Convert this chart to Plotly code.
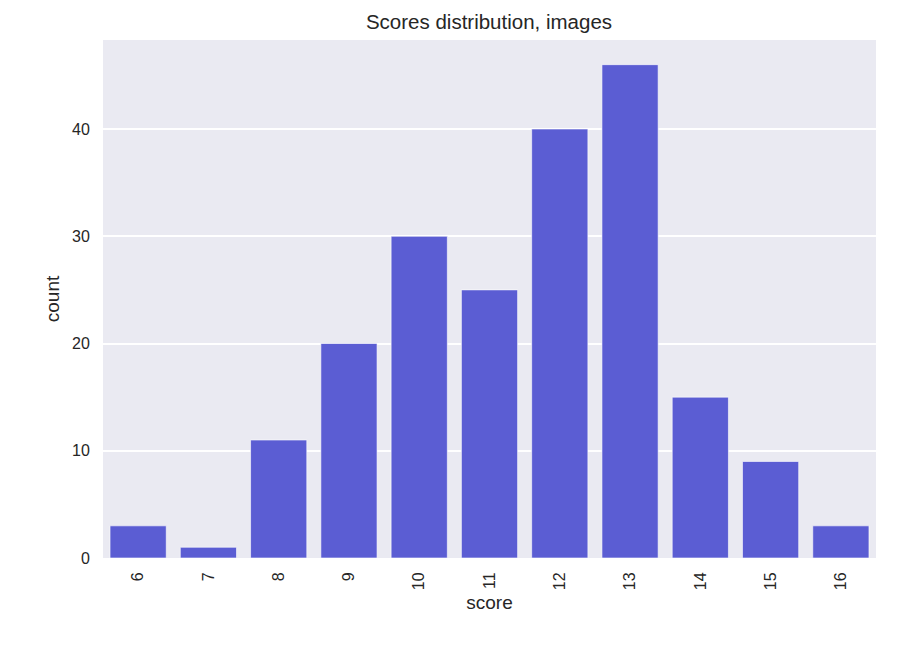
import plotly.graph_objects as go

# score categories and how many images got each score
scores = ["6", "7", "8", "9", "10", "11", "12", "13", "14", "15", "16"]
counts = [3, 1, 11, 20, 30, 25, 40, 46, 15, 9, 3]


def plot_scores():
    fig = go.Figure(
        go.Bar(
            x=scores,
            y=counts,
            width=0.8,
            marker=dict(color="#5b5dd3", line=dict(color="rgba(255,255,255,0.6)", width=1)),
        )
    )

    # page body adds an 8px offset, so margins are shifted to compensate
    font = "Liberation Sans, Arial, sans-serif"
    fig.update_layout(
        width=918,
        height=647,
        margin=dict(l=95, r=50, t=32, b=97),
        paper_bgcolor="white",
        plot_bgcolor="#eaeaf2",
        font=dict(family=font, size=16, color="#262626"),
        title=dict(text="Scores distribution, images", x=(489 - 8) / 918, xanchor="center",
                   y=1 - 14 / 647, yanchor="middle", font=dict(size=20.5)),
        showlegend=False,
    )
    fig.update_xaxes(
        title=dict(text="score", font=dict(size=19), standoff=6),
        tickangle=-90,
        showgrid=False,
        zeroline=False,
        ticks="outside",
        ticklen=7,
        tickcolor="rgba(0,0,0,0)",
        range=[-0.5, 10.5],
    )
    fig.update_yaxes(
        title=dict(text="count", font=dict(size=19), standoff=7),
        range=[0, 48.3],
        tickvals=[0, 10, 20, 30, 40],
        gridcolor="white",
        gridwidth=1.5,
        zeroline=False,
        ticks="outside",
        ticklen=9,
        tickcolor="rgba(0,0,0,0)",
    )

    fig.write_html("out.html")


if __name__ == "__main__":
    plot_scores()
